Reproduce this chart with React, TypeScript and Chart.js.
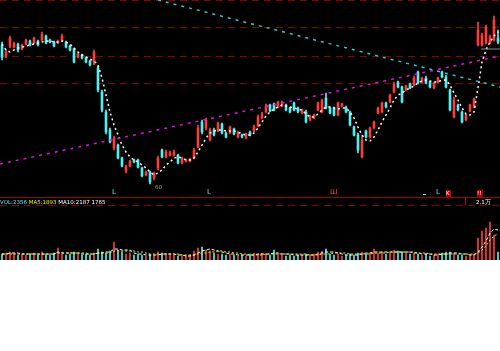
import React, { useEffect, useRef } from 'react';
import { Chart, registerables } from 'chart.js';
Chart.register(...registerables);

// ---- price data (one candle per session) ----
const opens = [
  27.75, 27.2, 27.7, 27.65, 27.8, 27.55, 27.8, 27.95, 27.85, 27.95,
  28.0, 28.2, 28.0, 27.9, 27.85, 28.0, 27.9, 27.7, 27.55, 27.15,
  27.25, 27.1, 26.95, 26.85, 26.6, 25.4, 24.4, 23.5, 22.6, 22.75,
  22.1, 21.45, 21.7, 22.0, 22.0, 21.6, 21.25, 21.4, 21.1, 21.6,
  22.5, 22.15, 22.25, 22.25, 22.25, 21.85, 21.95, 21.95, 22.1, 22.65,
  23.9, 23.6, 23.0, 23.5, 23.45, 23.8, 23.35, 23.35, 23.55, 23.15,
  23.25, 23.1, 23.4, 23.45, 23.7, 24.1, 24.4, 24.75, 24.8, 24.65,
  24.7, 24.75, 24.6, 24.85, 24.6, 24.35, 24.4, 24.0, 24.1, 24.5,
  24.4, 25.1, 24.6, 24.6, 24.25, 24.7, 24.65, 24.4, 23.65, 23.25,
  22.15, 23.45, 23.15, 23.6, 24.35, 24.4, 24.85, 24.9, 25.4, 25.9,
  25.65, 25.5, 25.8, 25.75, 26.4, 25.9, 26.1, 25.9, 25.6, 25.9,
  26.4, 26.15, 25.5, 24.15, 24.75, 24.4, 24.0, 24.45, 24.65, 27.75,
  27.75, 27.85, 27.85, 28.0, 28.1,
];
const highs = [
  27.9, 27.5, 28.2, 27.9, 27.85, 27.8, 28.05, 28.0, 28.15, 28.0,
  28.4, 28.25, 28.05, 27.95, 28.0, 28.3, 27.95, 27.75, 27.6, 27.35,
  27.3, 27.15, 27.0, 27.5, 26.7, 25.5, 24.5, 23.6, 23.2, 22.8,
  22.15, 21.75, 22.0, 22.05, 22.05, 21.65, 21.45, 21.45, 21.4, 22.2,
  22.55, 22.5, 22.45, 22.5, 22.3, 22.15, 22.05, 22.1, 22.6, 23.75,
  24.0, 24.1, 23.6, 23.6, 23.9, 23.85, 23.4, 23.7, 23.6, 23.45,
  23.3, 23.35, 23.45, 23.75, 24.25, 24.4, 24.8, 24.8, 24.85, 24.95,
  24.95, 24.8, 24.65, 24.9, 24.65, 24.55, 24.5, 24.25, 24.3, 24.9,
  25.05, 25.35, 24.65, 24.65, 24.9, 24.85, 24.7, 24.45, 23.7, 23.35,
  23.25, 23.5, 23.65, 23.95, 24.65, 24.9, 24.9, 25.3, 25.9, 25.95,
  25.7, 25.75, 25.85, 26.2, 26.45, 26.15, 26.2, 25.95, 25.9, 26.15,
  26.45, 26.25, 25.55, 25.15, 24.8, 24.45, 24.3, 24.8, 25.1, 28.9,
  28.35, 28.75, 28.25, 29.2, 28.5,
];
const lows = [
  27.0, 27.1, 27.6, 27.6, 27.4, 27.5, 27.75, 27.7, 27.8, 27.7,
  27.95, 27.8, 27.85, 27.65, 27.8, 27.95, 27.6, 27.45, 26.85, 27.1,
  27.05, 26.85, 26.7, 26.75, 25.4, 24.4, 23.3, 22.85, 22.5, 22.05,
  21.65, 21.35, 21.65, 21.85, 21.6, 21.15, 21.2, 20.8, 21.0, 21.5,
  22.1, 22.1, 22.2, 22.2, 21.8, 21.8, 21.9, 21.9, 22.05, 22.6,
  23.3, 23.5, 22.95, 23.2, 23.4, 23.3, 23.1, 23.3, 23.25, 23.1,
  23.1, 23.05, 23.2, 23.4, 23.65, 24.05, 24.35, 24.4, 24.45, 24.6,
  24.65, 24.45, 24.35, 24.45, 24.35, 24.3, 23.85, 23.95, 24.05, 24.45,
  24.35, 24.55, 24.3, 24.2, 24.2, 24.65, 24.35, 23.7, 23.2, 22.35,
  22.1, 23.1, 23.1, 23.55, 24.3, 24.35, 24.6, 24.85, 25.35, 25.6,
  24.85, 25.45, 25.55, 25.7, 25.8, 25.85, 25.8, 25.6, 25.55, 25.85,
  26.1, 25.6, 24.45, 24.1, 24.45, 23.85, 23.95, 24.4, 24.6, 27.7,
  27.7, 27.8, 27.8, 27.95, 27.8,
];
const closes = [
  27.15, 27.4, 28.1, 27.85, 27.5, 27.75, 28.0, 27.75, 28.1, 27.75,
  28.3, 27.85, 27.9, 27.7, 27.95, 28.2, 27.65, 27.5, 26.9, 27.3,
  27.1, 26.9, 26.75, 27.4, 25.5, 24.5, 23.4, 22.9, 23.1, 22.1,
  21.7, 21.7, 21.95, 21.9, 21.65, 21.2, 21.4, 20.9, 21.3, 22.1,
  22.15, 22.4, 22.35, 22.4, 21.85, 22.1, 22.0, 22.05, 22.5, 23.6,
  23.4, 24.0, 23.5, 23.25, 23.85, 23.35, 23.15, 23.65, 23.3, 23.35,
  23.15, 23.3, 23.25, 23.65, 24.15, 24.3, 24.7, 24.45, 24.5, 24.9,
  24.9, 24.5, 24.4, 24.5, 24.4, 24.5, 23.9, 24.2, 24.25, 24.85,
  25.0, 24.6, 24.35, 24.25, 24.85, 24.8, 24.4, 23.75, 23.25, 22.5,
  23.0, 23.15, 23.6, 23.9, 24.6, 24.85, 24.65, 25.25, 25.8, 25.65,
  24.9, 25.7, 25.6, 26.1, 25.85, 26.1, 25.85, 25.65, 25.85, 26.1,
  26.15, 25.65, 24.5, 25.0, 24.5, 23.9, 24.25, 24.75, 25.05, 28.5,
  28.25, 28.65, 28.15, 29.0, 27.9,
];
const priceMa = [
  27.8, 27.5, 27.4, 27.5, 27.6, 27.65, 27.7, 27.75, 27.8, 27.85,
  27.9, 27.95, 27.95, 27.9, 27.9, 27.95, 27.9, 27.8, 27.6, 27.4,
  27.25, 27.15, 27.05, 26.95, 26.75, 26.1, 25.25, 24.4, 23.75, 23.25,
  22.75, 22.4, 22.15, 22.0, 21.9, 21.75, 21.6, 21.4, 21.25, 21.35,
  21.5, 21.75, 21.9, 22.1, 22.15, 22.1, 22.0, 22.0, 22.1, 22.4,
  22.75, 23.1, 23.35, 23.45, 23.5, 23.5, 23.45, 23.45, 23.45, 23.4,
  23.3, 23.25, 23.25, 23.35, 23.6, 23.9, 24.2, 24.4, 24.55, 24.65,
  24.75, 24.7, 24.65, 24.6, 24.55, 24.5, 24.3, 24.15, 24.15, 24.3,
  24.5, 24.65, 24.65, 24.6, 24.55, 24.6, 24.6, 24.4, 24.1, 23.65,
  23.25, 23.0, 22.95, 23.15, 23.5, 23.9, 24.25, 24.6, 25.0, 25.25,
  25.35, 25.5, 25.6, 25.7, 25.85, 25.95, 26.0, 25.95, 25.9, 25.9,
  26.0, 26.0, 25.75, 25.35, 25.0, 24.6, 24.3, 24.25, 24.4, 25.6,
  26.9, 27.5, 27.9, 28.2, 28.4,
];

// ---- volume data ----
const volumes = [
  6, 7, 8, 7, 5, 6, 5, 6, 7, 5,
  8, 6, 5, 7, 12, 6, 5, 6, 8, 6,
  5, 6, 5, 7, 11, 8, 7, 9, 18, 10,
  8, 6, 7, 5, 6, 5, 4, 5, 5, 8,
  7, 6, 5, 5, 4, 4, 4, 5, 9, 12,
  13, 10, 9, 7, 6, 6, 5, 6, 5, 4,
  5, 4, 6, 7, 6, 7, 6, 5, 10, 6,
  5, 4, 5, 4, 5, 5, 6, 5, 6, 8,
  9, 11, 6, 5, 6, 4, 5, 6, 5, 7,
  8, 6, 7, 11, 7, 8, 6, 7, 10, 9,
  8, 7, 6, 7, 6, 5, 6, 4, 5, 6,
  7, 8, 8, 7, 5, 5, 4, 5, 6, 22,
  29, 32, 38, 25, 8,
];
const volMa5 = [
  6, 6, 7, 7, 7, 6, 6, 6, 6, 6,
  6, 6, 6, 6, 8, 7, 7, 7, 7, 7,
  6, 6, 6, 6, 7, 7, 8, 8, 11, 11,
  10, 10, 10, 7, 6, 6, 5, 5, 5, 5,
  6, 6, 6, 6, 5, 5, 4, 4, 5, 7,
  9, 10, 11, 10, 9, 8, 7, 6, 6, 5,
  5, 5, 5, 5, 6, 6, 6, 6, 7, 7,
  6, 6, 6, 5, 5, 5, 5, 5, 5, 6,
  7, 8, 8, 8, 7, 6, 5, 5, 5, 5,
  6, 7, 7, 8, 8, 8, 8, 8, 8, 8,
  8, 8, 8, 7, 7, 6, 6, 6, 5, 5,
  6, 6, 7, 7, 7, 6, 6, 5, 5, 8,
  13, 19, 27, 31, 30,
];
const volMa10 = [
  6, 6, 6, 6, 6, 6, 6, 6, 6, 6,
  6, 6, 6, 6, 7, 7, 7, 7, 7, 7,
  7, 7, 6, 6, 7, 7, 7, 7, 9, 9,
  9, 9, 9, 9, 8, 8, 7, 6, 6, 6,
  6, 6, 6, 6, 6, 5, 5, 5, 5, 6,
  7, 7, 8, 8, 9, 9, 8, 8, 7, 7,
  6, 6, 5, 5, 5, 5, 6, 6, 6, 6,
  6, 6, 6, 6, 6, 6, 6, 5, 5, 5,
  6, 6, 6, 7, 7, 7, 7, 6, 6, 6,
  6, 6, 6, 7, 7, 7, 7, 8, 8, 8,
  8, 8, 8, 8, 7, 7, 7, 6, 6, 6,
  6, 6, 6, 6, 6, 6, 6, 6, 6, 7,
  10, 14, 20, 24, 26,
];

// ---- reference levels / trend lines (index, price) ----
const gridLevels = [30, 28.6, 27.2, 25.8];
const supportTrend = [{ x: -0.5, y: 21.8 }, { x: 124.5, y: 27.2 }];
const resistanceTrend = [{ x: 39, y: 30.0 }, { x: 124.5, y: 25.65 }];
const lastPrice = [{ x: 119.75, y: 27.55 }, { x: 124.5, y: 27.55 }];
const priceMin = 20.15;
const priceMax = 30;
const volMax = 62;
const volGrid = [55];

const UP = '#ff3c3c';
const DOWN = '#54f0f0';
const FLAT = '#ffffff';
const GRID_RED = '#8c0000';

export default function App() {
  const mainRef = useRef<HTMLCanvasElement>(null);
  const volRef = useRef<HTMLCanvasElement>(null);

  useEffect(() => {
    const idx = closes.map((_, i) => i);
    const colors = closes.map((c, i) => (c > opens[i] ? UP : c < opens[i] ? DOWN : FLAT));
    const n = closes.length;

    const main = new Chart(mainRef.current as HTMLCanvasElement, {
      type: 'bar',
      data: {
        datasets: [
          {
            type: 'line',
            data: priceMa.map((v, i) => ({ x: i, y: v })),
            borderColor: '#ffffff',
            borderWidth: 1.5,
            borderDash: [2, 3],
            pointRadius: 0,
            order: 1,
          } as any,
          {
            type: 'line',
            data: supportTrend,
            borderColor: '#e010e0',
            borderWidth: 1.5,
            borderDash: [3, 5],
            pointRadius: 0,
            order: 0,
          } as any,
          {
            type: 'line',
            data: resistanceTrend,
            borderColor: '#30c8c8',
            borderWidth: 1.5,
            borderDash: [3, 5],
            pointRadius: 0,
            order: 0,
          } as any,
          {
            type: 'line',
            data: lastPrice,
            borderColor: '#8c8c8c',
            borderWidth: 1,
            pointRadius: 0,
            order: 0,
          } as any,
          {
            type: 'bar',
            data: idx.map((i) => ({ x: i, y: [lows[i], highs[i]] })),
            backgroundColor: colors,
            barThickness: 1,
            grouped: false,
            order: 3,
          } as any,
          {
            type: 'bar',
            data: idx.map((i) => ({ x: i, y: [opens[i], closes[i]] })),
            backgroundColor: colors,
            barThickness: 2,
            minBarLength: 1,
            grouped: false,
            order: 2,
          } as any,
        ],
      },
      options: {
        responsive: false,
        animation: false,
        layout: { padding: 0 },
        plugins: { legend: { display: false }, tooltip: { enabled: false } },
        scales: {
          x: { type: 'linear', min: -0.5, max: n - 0.5, display: false, offset: false },
          y: {
            min: priceMin,
            max: priceMax,
            afterBuildTicks: (ax: any) => {
              ax.ticks = gridLevels.map((v) => ({ value: v }));
            },
            ticks: { display: false },
            grid: { color: GRID_RED, lineWidth: 1, drawTicks: false },
            border: { display: false, dash: [7, 5] },
          },
        },
      } as any,
    });

    const vol = new Chart(volRef.current as HTMLCanvasElement, {
      type: 'bar',
      data: {
        datasets: [
          {
            type: 'line',
            data: volMa5.map((v, i) => ({ x: i, y: v })),
            borderColor: '#ffffff',
            borderWidth: 1,
            borderDash: [3, 2],
            pointRadius: 0,
            order: 1,
          } as any,
          {
            type: 'line',
            data: volMa10.map((v, i) => ({ x: i, y: v })),
            borderColor: '#f0f000',
            borderWidth: 1,
            borderDash: [2, 2],
            pointRadius: 0,
            order: 0,
          } as any,
          {
            type: 'bar',
            data: idx.map((i) => ({ x: i, y: volumes[i] })),
            backgroundColor: colors,
            barThickness: 1,
            grouped: false,
            order: 2,
          } as any,
        ],
      },
      options: {
        responsive: false,
        animation: false,
        layout: { padding: 0 },
        plugins: { legend: { display: false }, tooltip: { enabled: false } },
        scales: {
          x: { type: 'linear', min: -0.5, max: n - 0.5, display: false, offset: false },
          y: {
            min: 0,
            max: volMax,
            afterBuildTicks: (ax: any) => {
              ax.ticks = volGrid.map((v) => ({ value: v }));
            },
            ticks: { display: false },
            grid: { color: GRID_RED, lineWidth: 1, drawTicks: false },
            border: { display: false, dash: [7, 5] },
          },
        },
      } as any,
    });

    return () => {
      main.destroy();
      vol.destroy();
    };
  }, []);

  const tiny: React.CSSProperties = {
    position: 'absolute',
    fontFamily: 'DejaVu Sans, sans-serif',
    fontSize: 5.5,
    lineHeight: '6px',
    whiteSpace: 'nowrap',
  };

  return (
    <div style={{ position: 'absolute', left: 0, top: 0, width: 500, height: 260, background: '#000', overflow: 'hidden' }}>
      <canvas ref={mainRef} width={500} height={197} style={{ position: 'absolute', left: 0, top: 0, width: 500, height: 197 }} />
      <div style={{ position: 'absolute', left: 0, top: 197, width: 500, height: 1, background: '#a00000' }} />
      <canvas ref={volRef} width={500} height={62} style={{ position: 'absolute', left: 0, top: 198, width: 500, height: 62 }} />

      {/* volume legend */}
      <div style={{ ...tiny, left: 0, top: 199 }}>
        <span style={{ color: '#54f0f0' }}>VOL:2356</span>
        <span style={{ color: '#f0f000' }}> MA5:1893</span>
        <span style={{ color: '#ffffff' }}> MA10:2187</span>
        <span style={{ color: '#ffffff' }}> 1765</span>
      </div>
      <div style={{ position: 'absolute', left: 465, top: 197, width: 1, height: 8, background: '#c00000' }} />
      <div style={{ ...tiny, left: 476, top: 199, color: '#ffffff' }}>2.1万</div>

      {/* event markers along the bottom of the price panel */}
      <div style={{ ...tiny, left: 155, top: 184, color: '#b4a070' }}>60</div>
      <div style={{ ...tiny, fontSize: 7, lineHeight: '7px', left: 112, top: 189, color: '#54f0f0' }}>L</div>
      <div style={{ ...tiny, fontSize: 7, lineHeight: '7px', left: 207, top: 189, color: '#54f0f0' }}>L</div>
      <div style={{ ...tiny, fontSize: 7, lineHeight: '7px', left: 330, top: 189, color: '#ff3c3c' }}>Ш</div>
      <div style={{ position: 'absolute', left: 423, top: 194, width: 3, height: 1, background: '#54f0f0' }} />
      <div style={{ ...tiny, fontSize: 7, lineHeight: '7px', left: 436, top: 189, color: '#54f0f0' }}>L</div>
      <div style={{ ...tiny, left: 446, top: 190, width: 5, height: 7, background: '#c00000', color: '#fff' }}>K</div>
      <div style={{ ...tiny, left: 477, top: 190, width: 6, height: 7, background: '#b00000', color: '#fff' }}>!!</div>
    </div>
  );
}
